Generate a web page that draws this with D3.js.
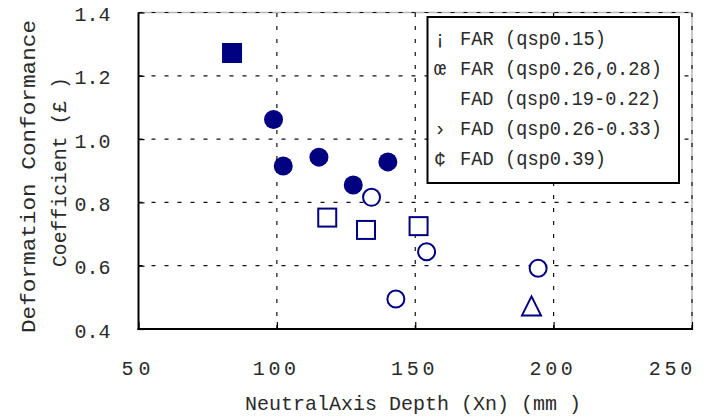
<!DOCTYPE html>
<html>
<head>
<meta charset="utf-8">
<script src="https://cdn.jsdelivr.net/npm/d3@7"></script>
<style>
  html, body { margin: 0; padding: 0; background: #fff; }
  svg { display: block; }
  text { font-family: "Liberation Mono", "DejaVu Sans Mono", monospace; fill: #2a2a2a; }
</style>
</head>
<body>
<svg id="chart" width="712" height="419"></svg>
<script>
// ---- data ----
const xTicks = [50, 100, 150, 200, 250];
const yTicks = [0.4, 0.6, 0.8, 1.0, 1.2, 1.4];
const yTickLabels = ["0.4", "0.6", "0.8", "1.0", "1.2", "1.4"];

const farQ15X = [83.8];
const farQ15Y = [1.272];
const farQ26X = [98.8, 102.3, 115.2, 127.6, 140.1];
const farQ26Y = [1.062, 0.915, 0.943, 0.855, 0.928];
const fadQ19X = [118.2, 132.2, 151.2];
const fadQ19Y = [0.752, 0.713, 0.725];
const fadQ26X = [134.2, 154.1, 194.4, 143.0];
const fadQ26Y = [0.816, 0.644, 0.592, 0.495];
const fadQ39X = [192.0];
const fadQ39Y = [0.473];

const legendLabels = [
  "¡ FAR (qsp0.15)",
  "œ FAR (qsp0.26,0.28)",
  "  FAD (qsp0.19-0.22)",
  "› FAD (qsp0.26-0.33)",
  "¢ FAD (qsp0.39)"
];
const xTitle = "NeutralAxis Depth (Xn) (mm )";
const yTitle1 = "Deformation Conformance";
const yTitle2 = "Coefficient (£ )";

// ---- layout ----
const svg = d3.select("#chart");
const L = 138.5, R = 692, T = 12.5, B = 329;
const x = d3.scaleLinear().domain([50, 250]).range([L, R]);
const y = d3.scaleLinear().domain([0.4, 1.4]).range([B, T]);
const navy = "#000080";

// frame top/right light grey
svg.append("line").attr("x1", L).attr("x2", R).attr("y1", T).attr("y2", T)
  .attr("stroke", "#b8b8b8").attr("stroke-width", 1.5);
svg.append("line").attr("x1", R).attr("x2", R).attr("y1", T).attr("y2", B)
  .attr("stroke", "#b8b8b8").attr("stroke-width", 1.5);

// gridlines
const grid = svg.append("g").attr("stroke", "#111").attr("stroke-width", 1.2)
  .attr("stroke-dasharray", "4,9");
yTicks.filter(v => v > 0.4).forEach(v => {
  grid.append("line").attr("x1", L).attr("x2", R).attr("y1", y(v)).attr("y2", y(v));
});
xTicks.filter(v => v > 50).forEach(v => {
  grid.append("line").attr("x1", x(v)).attr("x2", x(v)).attr("y1", B).attr("y2", T);
});

// axes (D3 axes, inward ticks)
const yAxis = d3.axisLeft(y).tickValues(yTicks).tickSize(-6).tickFormat((d, i) => yTickLabels[i]).tickPadding(34);
const gy = svg.append("g").attr("transform", `translate(${L},0)`).call(yAxis);
gy.select(".domain").remove();
gy.selectAll(".tick line").attr("stroke", "#000").attr("stroke-width", 1.2);
gy.selectAll(".tick text").attr("font-size", 20).attr("fill", "#2a2a2a")
  .attr("font-family", "Liberation Mono").attr("dy", "0.4em").attr("dx", "6");

const xAxis = d3.axisBottom(x).tickValues(xTicks).tickSize(-7).tickFormat(d3.format("d")).tickPadding(40);
const gx = svg.append("g").attr("transform", `translate(0,${B})`).call(xAxis);
gx.select(".domain").remove();
gx.selectAll(".tick line").attr("stroke", "#000").attr("stroke-width", 1.2);
gx.selectAll(".tick text").attr("font-size", 20).attr("fill", "#2a2a2a")
  .attr("font-family", "Liberation Mono").attr("dy", "0.3em")
  .attr("textLength", d => String(d).length * 14.5).attr("lengthAdjust", "spacing")
  .attr("dx", (d, i) => i === xTicks.length - 1 ? -22 : -3);

// axis lines
svg.append("line").attr("x1", L).attr("x2", L).attr("y1", T).attr("y2", B + 1)
  .attr("stroke", "#000").attr("stroke-width", 2);
svg.append("line").attr("x1", L - 1).attr("x2", R + 1).attr("y1", B).attr("y2", B)
  .attr("stroke", "#000").attr("stroke-width", 2);

// axis titles
svg.append("text").attr("x", 245).attr("y", 410).attr("font-size", 21)
  .attr("textLength", 336).attr("lengthAdjust", "spacingAndGlyphs").text(xTitle);
svg.append("text").attr("transform", "translate(35,333) rotate(-90)").attr("font-size", 21)
  .attr("textLength", 313).attr("lengthAdjust", "spacingAndGlyphs").text(yTitle1);
svg.append("text").attr("transform", "translate(66,267) rotate(-90)").attr("font-size", 21)
  .attr("textLength", 190).attr("lengthAdjust", "spacingAndGlyphs").text(yTitle2);

// markers
const zip = (xs, ys) => xs.map((v, i) => ({ x: v, y: ys[i] }));
const m = svg.append("g");
const sq = 20, osq = 18;
m.selectAll(".fsq").data(zip(farQ15X, farQ15Y)).join("rect")
  .attr("x", d => x(d.x) - sq / 2).attr("y", d => y(d.y) - sq / 2)
  .attr("width", sq).attr("height", sq).attr("fill", navy);
m.selectAll(".fci").data(zip(farQ26X, farQ26Y)).join("circle")
  .attr("cx", d => x(d.x)).attr("cy", d => y(d.y)).attr("r", 9.5).attr("fill", navy);
m.selectAll(".osq").data(zip(fadQ19X, fadQ19Y)).join("rect")
  .attr("x", d => x(d.x) - osq / 2).attr("y", d => y(d.y) - osq / 2)
  .attr("width", osq).attr("height", osq).attr("fill", "#fff").attr("stroke", navy).attr("stroke-width", 2);
m.selectAll(".oci").data(zip(fadQ26X, fadQ26Y)).join("circle")
  .attr("cx", d => x(d.x)).attr("cy", d => y(d.y)).attr("r", 8.5)
  .attr("fill", "#fff").attr("stroke", navy).attr("stroke-width", 2);
m.selectAll(".otr").data(zip(fadQ39X, fadQ39Y)).join("path")
  .attr("d", d => {
    const cx = x(d.x), cy = y(d.y), h = 9.5;
    return `M${cx},${cy - h}L${cx + h},${cy + h}L${cx - h},${cy + h}Z`;
  })
  .attr("fill", "#fff").attr("stroke", navy).attr("stroke-width", 2).attr("stroke-linejoin", "miter");

// legend
const lg = svg.append("g");
lg.append("rect").attr("x", 427.5).attr("y", 17).attr("width", 251.5).attr("height", 166)
  .attr("fill", "#fff").attr("stroke", "#000").attr("stroke-width", 2);
const legendWidths = [146, 202, 201, 202, 146];
legendLabels.forEach((t, i) => {
  const sym = t.slice(0, 1), rest = t.slice(2);
  const by = 45 + i * 30;
  lg.append("text").attr("x", 434).attr("y", by).attr("font-size", 20).text(sym);
  lg.append("text").attr("x", 460).attr("y", by).attr("font-size", 20)
    .attr("textLength", legendWidths[i]).attr("lengthAdjust", "spacingAndGlyphs").text(rest);
});
</script>
</body>
</html>
